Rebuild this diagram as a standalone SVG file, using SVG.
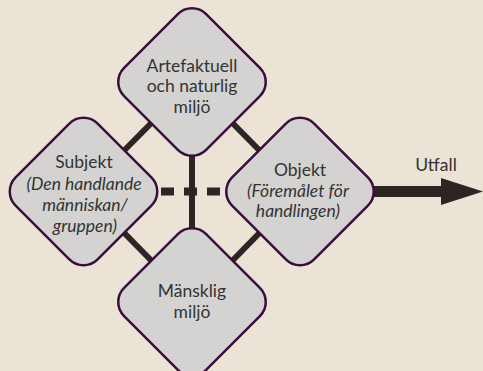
<svg xmlns="http://www.w3.org/2000/svg" width="483" height="371" viewBox="0 0 483 371">
<style>
.bg{fill:#ebe3d5}
.dia{fill:#d4d3d1;stroke:#3a0e3d;stroke-width:2.5}
.con{stroke:#2b2624;stroke-width:6;fill:none}
.dash{stroke:#2b2624;stroke-width:8;stroke-dasharray:13 10;fill:none}
text{font-family:Lato,"Open Sans","Liberation Sans",sans-serif;font-size:17.5px;fill:#333;text-anchor:middle}
.it{font-style:italic}
</style>
<defs>
<rect id="d" x="-58" y="-58" width="116" height="116" rx="20" ry="20" transform="rotate(45)"/>
</defs>
<rect class="bg" x="0" y="0" width="483" height="371"/>
<g id="connectors">
<line class="con" x1="192" y1="82" x2="83.5" y2="191.5"/>
<line class="con" x1="192" y1="82" x2="300" y2="191.5"/>
<line class="con" x1="83.5" y1="191.5" x2="192" y2="302"/>
<line class="con" x1="300" y1="191.5" x2="192" y2="302"/>
<line class="con" x1="192" y1="82" x2="192" y2="302" stroke-width="5"/>
<line class="dash" x1="161" y1="191.5" x2="221" y2="191.5"/>
<rect x="370" y="186" width="72" height="11" fill="#2b2624"/>
<polygon points="441,178 483,191.5 441,205" fill="#2b2624"/>
</g>
<g id="top">
<use href="#d" class="dia" transform="translate(192,82)"/>
<text x="192" y="72">Artefaktuell</text>
<text x="192" y="92">och naturlig</text>
<text x="192" y="113">miljö</text>
</g>
<g id="left">
<use href="#d" class="dia" transform="translate(83.5,191.5)"/>
<text x="84" y="168">Subjekt</text>
<text x="84" y="190" class="it">(Den handlande</text>
<text x="85" y="211" class="it">människan/</text>
<text x="85" y="232" class="it">gruppen)</text>
</g>
<g id="right">
<use href="#d" class="dia" transform="translate(300,191.5)"/>
<text x="300" y="176">Objekt</text>
<text x="298" y="197" class="it">(Föremålet för</text>
<text x="298" y="217" class="it">handlingen)</text>
</g>
<g id="bottom">
<use href="#d" class="dia" transform="translate(192,302)"/>
<text x="192" y="297">Mänsklig</text>
<text x="192" y="318">miljö</text>
</g>
<g id="outcome">
<text x="436" y="171">Utfall</text>
</g>
</svg>
